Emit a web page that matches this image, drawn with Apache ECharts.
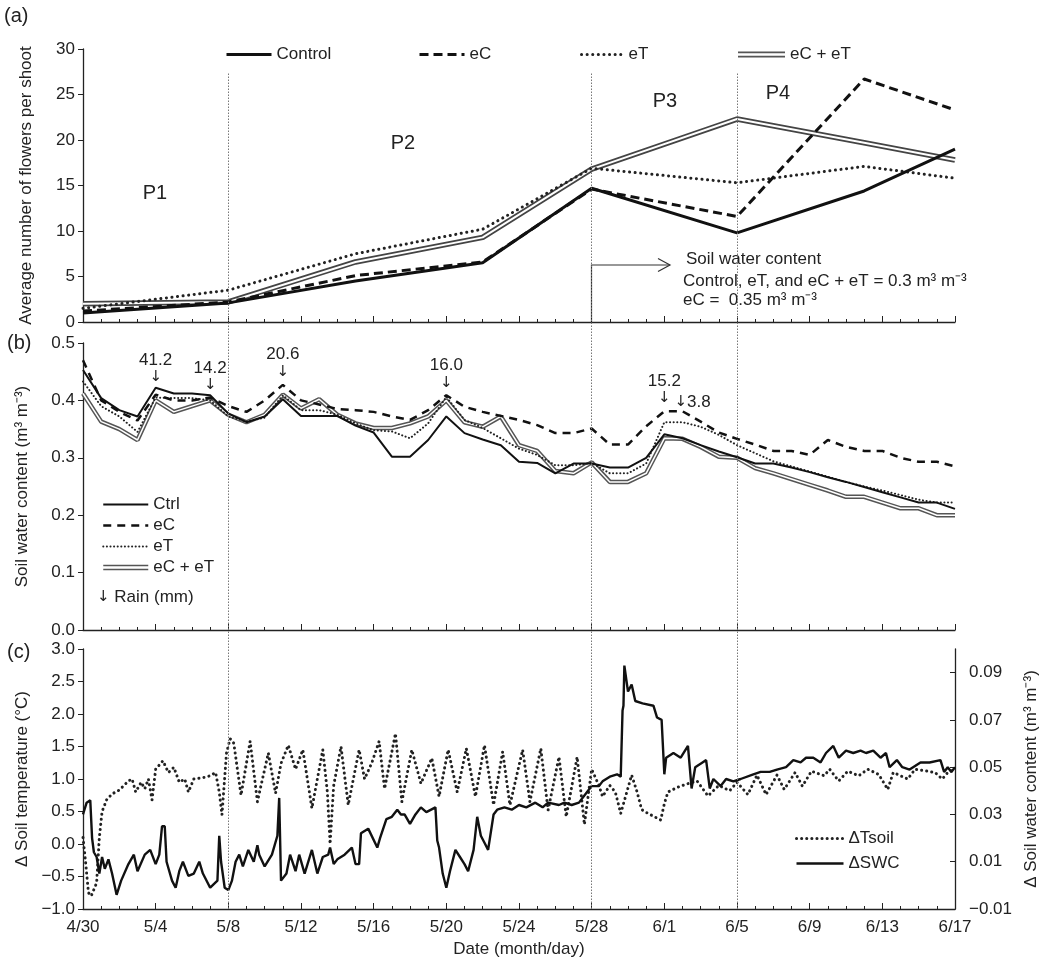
<!DOCTYPE html>
<html>
<head>
<meta charset="UTF-8">
<title>Flowering and soil conditions</title>
<style>
html, body { margin: 0; padding: 0; background: #fff; }
#main { width: 1042px; height: 963px; }
</style>
</head>
<body>
<div id="main"></div>
<script src="https://cdn.jsdelivr.net/npm/echarts@6/dist/echarts.min.js"></script>
<script>
// x values everywhere are days after 4/30
var dateLabels = ['4/30', '5/4', '5/8', '5/12', '5/16', '5/20', '5/24', '5/28', '6/1', '6/5', '6/9', '6/13', '6/17'];
var periodBounds = [8, 28, 36];

// (a) average number of flowers per shoot
var flowerDays = [0, 8, 15, 22, 28, 36, 43, 48];
var flowerCtrl = [1.0, 2.1, 4.5, 6.5, 14.7, 9.8, 14.4, 19.0];
var flowerEC = [1.2, 2.2, 5.1, 6.6, 14.6, 11.6, 26.7, 23.3];
var flowerET = [1.5, 3.5, 7.5, 10.2, 16.9, 15.3, 17.1, 15.8];
var flowerECET = [2.0, 2.2, 6.6, 9.3, 16.8, 22.3, 19.7, 17.8];

// (b) daily soil water content, day 0..48
var swcCtrl = [0.453, 0.404, 0.383, 0.372, 0.422, 0.412, 0.412, 0.409, 0.377, 0.362,
  0.372, 0.402, 0.373, 0.373, 0.373, 0.356, 0.344, 0.302, 0.302, 0.331,
  0.372, 0.343, 0.332, 0.322, 0.293, 0.291, 0.273, 0.290, 0.290, 0.283,
  0.283, 0.300, 0.341, 0.334, 0.322, 0.311, 0.301, 0.290, 0.290, 0.283,
  0.275, 0.266, 0.258, 0.249, 0.240, 0.231, 0.222, 0.222, 0.211];
var swcEC = [0.470, 0.400, 0.380, 0.365, 0.410, 0.400, 0.400, 0.405, 0.390, 0.380,
  0.400, 0.427, 0.400, 0.393, 0.385, 0.383, 0.380, 0.372, 0.366, 0.383,
  0.409, 0.389, 0.380, 0.373, 0.366, 0.357, 0.343, 0.343, 0.351, 0.323,
  0.323, 0.355, 0.381, 0.381, 0.363, 0.344, 0.333, 0.323, 0.312, 0.312,
  0.305, 0.331, 0.319, 0.312, 0.312, 0.300, 0.293, 0.293, 0.285];
var swcET = [0.433, 0.390, 0.372, 0.345, 0.405, 0.404, 0.404, 0.400, 0.372, 0.363,
  0.370, 0.409, 0.383, 0.383, 0.375, 0.360, 0.348, 0.346, 0.334, 0.360,
  0.406, 0.366, 0.352, 0.334, 0.316, 0.305, 0.287, 0.287, 0.291, 0.273,
  0.273, 0.290, 0.362, 0.362, 0.354, 0.340, 0.322, 0.308, 0.294, 0.285,
  0.276, 0.267, 0.258, 0.250, 0.243, 0.235, 0.227, 0.222, 0.222];
var swcECET = [0.412, 0.363, 0.350, 0.331, 0.400, 0.380, 0.390, 0.400, 0.375, 0.362,
  0.375, 0.410, 0.386, 0.402, 0.375, 0.360, 0.352, 0.352, 0.360, 0.372,
  0.400, 0.362, 0.354, 0.372, 0.322, 0.312, 0.277, 0.273, 0.292, 0.258,
  0.258, 0.273, 0.334, 0.333, 0.319, 0.302, 0.300, 0.282, 0.273, 0.263,
  0.253, 0.243, 0.232, 0.232, 0.222, 0.212, 0.212, 0.200, 0.200];

// rain events
var rainDay = [4, 7, 11, 20, 32, 33];
var rainMm = ['41.2', '14.2', '20.6', '16.0', '15.2', '3.8'];
var rainArrowAt = [0.426, 0.412, 0.435, 0.416, 0.389, 0.397];

// (c) soil temperature difference (deg C)
var dTsoilDay = [0, 0.15, 0.3, 0.45, 0.6, 0.75, 0.9, 1.05, 1.3, 1.6, 2, 2.5, 2.7, 2.9, 3.2, 3.4, 3.6, 3.8, 4, 4.4,
  4.7, 5, 5.3, 5.6, 5.8, 6.1, 6.6, 7, 7.3, 7.5, 7.65, 7.9, 8.1, 8.3, 8.7, 9.2, 9.6, 10.2, 10.6, 10.9,
  11.3, 11.7, 12.1, 12.6, 13.2, 13.45, 13.6, 13.8, 14.2, 14.6, 15.2, 15.5, 15.9, 16.3, 16.6, 17.2, 17.55, 18.1, 18.6, 19.2,
  19.6, 20.1, 20.6, 21.1, 21.6, 22.1, 22.6, 23.1, 23.5, 24.2, 24.6, 25.2, 25.6, 26.2, 26.6, 27.2, 27.6, 28, 28.4, 28.6,
  29, 29.3, 29.6, 30.2, 30.5, 30.75, 31.1, 31.8, 32, 32.2, 32.7, 33.2, 33.8, 34.4, 35, 35.6, 36, 36.6, 37.1, 37.6,
  38.2, 38.6, 39.2, 39.6, 40.1, 40.8, 41.1, 41.6, 42.1, 42.7, 43.2, 43.8, 44.3, 44.6, 45.4, 45.8, 46.5, 46.9, 47.3, 47.6, 48];
var dTsoilVal = [0.1, -0.3, -0.75, -0.8, -0.7, -0.6, 0.1, 0.5, 0.68, 0.77, 0.83, 0.97, 1.0, 0.8, 0.95, 0.85, 1.0, 0.68, 1.15, 1.28,
  1.1, 1.18, 0.95, 1.0, 0.8, 1.0, 1.02, 1.05, 1.1, 0.8, 0.45, 1.4, 1.62, 1.55, 0.75, 1.58, 0.65, 1.4, 0.78, 1.24,
  1.52, 1.15, 1.45, 0.55, 1.45, 0.8, 0.0, 0.9, 1.5, 0.6, 1.45, 1.0, 1.25, 1.58, 0.85, 1.7, 0.65, 1.45, 0.93, 1.32,
  0.73, 1.45, 0.8, 1.47, 0.73, 1.52, 0.6, 1.42, 0.6, 1.45, 0.65, 1.47, 0.52, 1.34, 0.42, 1.34, 0.3, 1.15, 0.9, 0.73,
  0.9, 0.8, 0.47, 1.06, 0.8, 0.53, 0.47, 0.37, 0.62, 0.8, 0.87, 0.92, 0.97, 0.74, 0.9, 0.82, 0.95, 0.76, 1.06, 0.76,
  1.06, 0.84, 1.1, 0.89, 1.12, 1.05, 1.15, 0.97, 1.12, 1.05, 1.15, 1.07, 0.84, 1.1, 1.0, 1.15, 1.12, 1.1, 1.0, 1.1, 1.15];

// (c) soil water content difference (m3 m-3)
var dSwcDay = [0, 0.2, 0.4, 0.5, 0.6, 0.75, 0.9, 1.05, 1.2, 1.4, 1.6, 1.85, 2.1, 2.5, 2.8, 3, 3.4, 3.7, 4, 4.2,
  4.35, 4.5, 4.6, 4.9, 5.1, 5.3, 5.5, 5.8, 6.1, 6.4, 6.6, 7, 7.4, 7.5, 7.6, 7.8, 8, 8.2, 8.4, 8.6,
  8.8, 9.1, 9.4, 9.6, 9.7, 10, 10.4, 10.7, 10.8, 10.9, 11.2, 11.4, 11.7, 11.9, 12.2, 12.6, 12.9, 13.2, 13.5, 13.6,
  13.8, 14, 14.4, 14.8, 15, 15.2, 15.3, 15.7, 16.2, 16.35, 16.7, 17, 17.3, 17.5, 17.7, 18, 18.3, 18.6, 18.9, 19.4,
  19.5, 19.6, 19.8, 20, 20.2, 20.5, 20.75, 21, 21.2, 21.5, 21.7, 21.9, 22.1, 22.3, 22.6, 22.8, 23.2, 23.6, 24, 24.4,
  24.9, 25.3, 25.6, 26.2, 26.5, 26.9, 27.3, 27.6, 28, 28.4, 28.6, 29, 29.4, 29.6, 29.7, 29.75, 29.8, 30, 30.2, 30.4,
  30.8, 31.4, 31.6, 31.85, 32, 32.1, 32.5, 32.9, 33.3, 33.5, 33.7, 34.1, 34.3, 34.5, 34.7, 35.1, 35.4, 35.8, 36.2, 36.9,
  37.3, 37.8, 38.2, 38.7, 39.1, 39.5, 39.8, 40.2, 40.6, 40.9, 41.3, 41.6, 42, 42.4, 42.8, 43.1, 43.5, 43.9, 44.2, 44.4,
  44.8, 45.1, 45.5, 46.1, 46.6, 47.2, 47.4, 47.6, 47.8, 48];
var dSwcVal = [0.030, 0.035, 0.036, 0.020, 0.014, 0.012, 0.005, 0.012, 0.007, 0.011, 0.005, -0.004, 0.002, 0.009, 0.013, 0.006, 0.013, 0.015, 0.009, 0.013,
  0.025, 0.025, 0.010, 0.002, -0.001, 0.006, 0.010, 0.004, 0.005, 0.010, 0.005, -0.001, 0.002, 0.021, 0.010, -0.001, -0.002, 0.002, 0.010, 0.013,
  0.008, 0.015, 0.010, 0.017, 0.013, 0.008, 0.013, 0.021, 0.037, 0.002, 0.005, 0.013, 0.006, 0.013, 0.005, 0.015, 0.005, 0.012, 0.013, 0.016,
  0.009, 0.011, 0.013, 0.016, 0.009, 0.009, 0.022, 0.024, 0.016, 0.020, 0.028, 0.029, 0.032, 0.030, 0.030, 0.026, 0.030, 0.033, 0.031, 0.033,
  0.019, 0.016, 0.005, -0.001, 0.006, 0.015, 0.012, 0.009, 0.006, 0.015, 0.029, 0.021, 0.018, 0.015, 0.030, 0.032, 0.033, 0.032, 0.034, 0.033,
  0.035, 0.033, 0.035, 0.034, 0.035, 0.034, 0.035, 0.038, 0.042, 0.042, 0.044, 0.046, 0.047, 0.046, 0.074, 0.076, 0.093, 0.082, 0.085, 0.078,
  0.077, 0.076, 0.071, 0.070, 0.047, 0.054, 0.056, 0.054, 0.059, 0.041, 0.050, 0.052, 0.053, 0.041, 0.045, 0.042, 0.045, 0.044, 0.045, 0.047,
  0.048, 0.048, 0.049, 0.050, 0.053, 0.052, 0.054, 0.054, 0.052, 0.056, 0.059, 0.054, 0.057, 0.056, 0.057, 0.056, 0.057, 0.054, 0.056, 0.050,
  0.053, 0.050, 0.049, 0.052, 0.052, 0.053, 0.048, 0.050, 0.048, 0.050];
var dSwcTicks = [-0.01, 0.01, 0.03, 0.05, 0.07, 0.09];

var FONT = 'Liberation Sans, Arial, sans-serif';
var ARROW_FONT = 'DejaVu Sans, sans-serif';
var INK = '#222';
var DOUBLE_ICON = 'path://M0,0H46V1.6H0ZM0,4.2H46V5.8H0Z';

function pairs(xs, ys) {
  return xs.map(function (x, i) { return [x, ys[i]]; });
}
function days(n) {
  var out = [];
  for (var i = 0; i < n; i++) out.push(i);
  return out;
}
function minus(s) { return s.replace('-', '\u2212'); }

function xAxisFor(grid, labels) {
  return {
    type: 'value', gridIndex: grid, min: 0, max: 48, interval: 4, position: 'bottom',
    axisLine: { show: true, onZero: false, lineStyle: { color: INK, width: 1.3 } },
    axisTick: { show: true, inside: true, length: 6, lineStyle: { color: INK } },
    minorTick: { show: true, splitNumber: 4, length: 3, lineStyle: { color: INK } },
    splitLine: { show: false },
    axisLabel: {
      show: labels, fontSize: 17, color: INK, margin: 10, fontFamily: FONT,
      formatter: function (v) { return dateLabels[Math.round(v / 4)]; }
    },
    name: labels ? 'Date (month/day)' : '',
    nameLocation: 'middle', nameGap: 32,
    nameTextStyle: { fontSize: 17, color: INK, fontFamily: FONT }
  };
}
function yAxisFor(grid, opt) {
  var ax = {
    type: 'value', gridIndex: grid,
    axisLine: { show: true, onZero: false, lineStyle: { color: INK, width: 1.3 } },
    axisTick: { show: true, length: 5, lineStyle: { color: INK } },
    splitLine: { show: false },
    axisLabel: { fontSize: 17, color: INK, margin: 8, fontFamily: FONT },
    nameLocation: 'middle', nameGap: 52,
    nameTextStyle: { fontSize: 17, color: INK, fontFamily: FONT }
  };
  return Object.assign(ax, opt);
}

function lineSeries(name, xi, yi, data, style, z) {
  return {
    name: name, type: 'line', xAxisIndex: xi, yAxisIndex: yi, data: data,
    symbol: 'none', silent: true, z: z || 2,
    lineStyle: style, itemStyle: { color: style.color }
  };
}

// legend symbols hidden: only the line part of each icon shows
var legendBase = {
  itemWidth: 45, itemHeight: 14, selectedMode: false,
  textStyle: { fontSize: 17, color: INK, fontFamily: FONT },
  lineStyle: { width: 'inherit' },
  itemStyle: { opacity: 0 }
};
function legendAt(opt) { return Object.assign({}, legendBase, opt); }
function doubleItem(name) {
  return { name: name, icon: DOUBLE_ICON, itemStyle: { opacity: 1, color: '#555' } };
}

var rainRich = {
  n: { fontSize: 17, lineHeight: 17, color: INK, fontFamily: FONT },
  a: { fontSize: 15, lineHeight: 17, color: INK, fontFamily: ARROW_FONT }
};

var chart = echarts.init(document.getElementById('main'));

var option = {
  animation: false,
  backgroundColor: '#fff',
  textStyle: { fontFamily: FONT },
  grid: [
    { left: 83, right: 87, top: 49, height: 273, outerBoundsMode: 'none' },
    { left: 83, right: 87, top: 343, height: 287, outerBoundsMode: 'none' },
    { left: 83, right: 87, top: 649, height: 260, outerBoundsMode: 'none' },
    { left: 83, right: 87, top: 73, bottom: 54, outerBoundsMode: 'none' }
  ],
  xAxis: [
    xAxisFor(0, false),
    xAxisFor(1, false),
    xAxisFor(2, true),
    { type: 'value', gridIndex: 3, min: 0, max: 48, show: false }
  ],
  yAxis: [
    yAxisFor(0, { min: 0, max: 30, interval: 5, name: 'Average number of flowers per shoot', nameGap: 48 }),
    yAxisFor(1, {
      min: 0, max: 0.5, interval: 0.1, name: 'Soil water content (m\u00b3 m\u207b\u00b3)',
      axisLabel: { fontSize: 17, color: INK, margin: 8, fontFamily: FONT, formatter: function (v) { return v.toFixed(1); } }
    }),
    yAxisFor(2, {
      min: -1, max: 3, interval: 0.5, name: '\u0394 Soil temperature (\u00b0C)',
      axisLabel: { fontSize: 17, color: INK, margin: 8, fontFamily: FONT, formatter: function (v) { return minus(v.toFixed(1)); } }
    }),
    yAxisFor(2, {
      position: 'right', min: -0.01, max: 0.1, name: '\u0394 Soil water content (m\u00b3 m\u207b\u00b3)', nameGap: 62,
      nameRotate: 90,
      axisTick: { show: true, inside: true, length: 5, lineStyle: { color: INK }, customValues: dSwcTicks },
      axisLabel: {
        fontSize: 17, color: INK, margin: 14, fontFamily: FONT, customValues: dSwcTicks,
        formatter: function (v) { return minus(v.toFixed(2)); }
      }
    }),
    { type: 'value', gridIndex: 3, min: 0, max: 1, show: false }
  ],
  legend: [
    legendAt({ data: ['Control'], left: 220, top: 41 }),
    legendAt({ data: ['eC'], left: 413, top: 41 }),
    legendAt({ data: ['eT'], left: 575, top: 41, itemWidth: 42 }),
    legendAt({ data: [doubleItem('eC + eT')], left: 733, top: 41, itemWidth: 47 }),
    legendAt({
      data: ['Ctrl', 'eC (b)', 'eT (b)', doubleItem('eC + eT (b)')],
      orient: 'vertical', left: 97, top: 491, itemGap: 4,
      formatter: function (n) { return n.replace(' (b)', ''); }
    }),
    legendAt({ data: ['\u0394Tsoil', '\u0394SWC'], orient: 'vertical', left: 790, top: 825, itemWidth: 47, itemGap: 8 })
  ],
  series: [
    // (a)
    lineSeries('eC + eT', 0, 0, pairs(flowerDays, flowerECET), { color: '#444', width: 5.5 }, 2),
    lineSeries('eC + eT inner', 0, 0, pairs(flowerDays, flowerECET), { color: '#fff', width: 2 }, 3),
    lineSeries('eT', 0, 0, pairs(flowerDays, flowerET), { color: INK, width: 3, type: [0.1, 5.5], cap: 'round' }, 4),
    lineSeries('eC', 0, 0, pairs(flowerDays, flowerEC), { color: '#111', width: 3, type: [9, 5] }, 4),
    lineSeries('Control', 0, 0, pairs(flowerDays, flowerCtrl), { color: '#111', width: 3 }, 4),
    // (b)
    lineSeries('eC + eT (b)', 1, 1, pairs(days(49), swcECET), { color: '#555', width: 4.5 }, 2),
    lineSeries('eC + eT inner (b)', 1, 1, pairs(days(49), swcECET), { color: '#fff', width: 1.5 }, 3),
    lineSeries('eT (b)', 1, 1, pairs(days(49), swcET), { color: INK, width: 2, type: [0.1, 3.5], cap: 'round' }, 4),
    lineSeries('eC (b)', 1, 1, pairs(days(49), swcEC), { color: '#111', width: 2.5, type: [8, 6] }, 4),
    lineSeries('Ctrl', 1, 1, pairs(days(49), swcCtrl), { color: '#111', width: 2 }, 4),
    {
      name: 'Rain', type: 'scatter', xAxisIndex: 1, yAxisIndex: 1, symbolSize: 0, silent: true, z: 6,
      itemStyle: { opacity: 1, color: INK },
      data: rainDay.map(function (d, i) {
        var last = i === rainDay.length - 1;
        var lab = { show: true, rich: rainRich, opacity: 1 };
        if (last) {
          lab.position = 'right'; lab.distance = 0; lab.offset = [-8, 0];
          lab.formatter = '{a|\u2193}{n|' + rainMm[i] + '}';
        } else {
          lab.position = 'top'; lab.distance = 0;
          lab.formatter = '{n|' + rainMm[i] + '}\n{a|\u2193}';
        }
        return { value: [d, rainArrowAt[i]], label: lab };
      })
    },
    // (c)
    lineSeries('\u0394Tsoil', 2, 2, pairs(dTsoilDay, dTsoilVal), { color: INK, width: 3, type: [0.1, 5], cap: 'round' }, 3),
    lineSeries('\u0394SWC', 2, 3, pairs(dSwcDay, dSwcVal), { color: '#111', width: 2.4 }, 4),
    // period boundaries across all panels
    {
      name: 'periods', type: 'line', xAxisIndex: 3, yAxisIndex: 4, data: [], silent: true, z: 1,
      markLine: {
        symbol: 'none', silent: true, animation: false,
        label: { show: false },
        lineStyle: { color: '#777', width: 1, type: [1.5, 1.5] },
        data: periodBounds.map(function (d) { return { xAxis: d }; })
      }
    }
  ],
  graphic: [
    { type: 'text', x: 4, y: 16, style: { text: '(a)', fontSize: 20, fontFamily: FONT, fill: INK, textVerticalAlign: 'middle' } },
    { type: 'text', x: 7, y: 343, style: { text: '(b)', fontSize: 20, fontFamily: FONT, fill: INK, textVerticalAlign: 'middle' } },
    { type: 'text', x: 7, y: 652, style: { text: '(c)', fontSize: 20, fontFamily: FONT, fill: INK, textVerticalAlign: 'middle' } },
    { type: 'text', x: 155, y: 193, style: { text: 'P1', fontSize: 20, fontFamily: FONT, fill: INK, textAlign: 'center', textVerticalAlign: 'middle' } },
    { type: 'text', x: 403, y: 143, style: { text: 'P2', fontSize: 20, fontFamily: FONT, fill: INK, textAlign: 'center', textVerticalAlign: 'middle' } },
    { type: 'text', x: 665, y: 101, style: { text: 'P3', fontSize: 20, fontFamily: FONT, fill: INK, textAlign: 'center', textVerticalAlign: 'middle' } },
    { type: 'text', x: 778, y: 93, style: { text: 'P4', fontSize: 20, fontFamily: FONT, fill: INK, textAlign: 'center', textVerticalAlign: 'middle' } },
    { type: 'polyline', shape: { points: [[591.5, 322], [591.5, 265], [670, 265]] }, style: { stroke: '#333', lineWidth: 1.2, fill: null } },
    { type: 'polyline', shape: { points: [[658, 258.5], [670, 265], [658, 271.5]] }, style: { stroke: '#333', lineWidth: 1.2, fill: null } },
    { type: 'text', x: 686, y: 259, style: { text: 'Soil water content', fontSize: 17, fontFamily: FONT, fill: INK, textVerticalAlign: 'middle' } },
    { type: 'text', x: 683, y: 281, style: { text: 'Control, eT, and eC + eT = 0.3 m\u00b3 m\u207b\u00b3', fontSize: 17, fontFamily: FONT, fill: INK, textVerticalAlign: 'middle' } },
    { type: 'text', x: 683, y: 300, style: { text: 'eC =  0.35 m\u00b3 m\u207b\u00b3', fontSize: 17, fontFamily: FONT, fill: INK, textVerticalAlign: 'middle' } },
    {
      type: 'text', x: 97, y: 597,
      style: { text: '{a|\u2193} Rain (mm)', rich: rainRich, fontSize: 17, fontFamily: FONT, fill: INK, textVerticalAlign: 'middle' }
    }
  ]
};

chart.setOption(option);
</script>
</body>
</html>
